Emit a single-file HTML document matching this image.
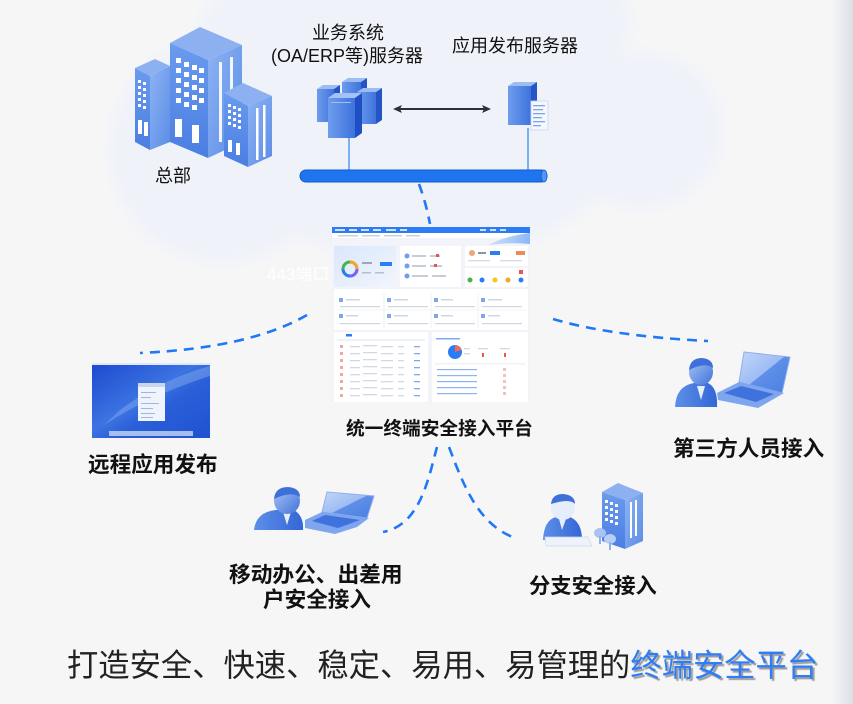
<!DOCTYPE html>
<html><head><meta charset="utf-8">
<style>
html,body{margin:0;padding:0;}
body{width:853px;height:704px;overflow:hidden;background:#f6f6f7;}
svg{display:block;}
text{font-family:"Liberation Sans","Noto Sans CJK SC",sans-serif;}
</style></head>
<body>
<svg width="853" height="704" viewBox="0 0 853 704" xmlns="http://www.w3.org/2000/svg">
<defs>
  <filter id="blur" x="-20%" y="-20%" width="140%" height="140%"><feGaussianBlur stdDeviation="7"/></filter>
  <linearGradient id="edge" x1="0" x2="1" y1="0" y2="0">
    <stop offset="0" stop-color="#f6f6f7"/><stop offset="1" stop-color="#dcdfe6"/>
  </linearGradient>
  <linearGradient id="bfront" x1="0" y1="0" x2="0" y2="1">
    <stop offset="0" stop-color="#6b9bee"/><stop offset="1" stop-color="#4a7ee2"/>
  </linearGradient>
  <linearGradient id="bside" x1="0" y1="0" x2="1" y2="1">
    <stop offset="0" stop-color="#8db3f3"/><stop offset="1" stop-color="#5b8ce6"/>
  </linearGradient>
  <linearGradient id="srv" x1="0" y1="0" x2="1" y2="0">
    <stop offset="0" stop-color="#6e9cee"/><stop offset="1" stop-color="#3f73dc"/>
  </linearGradient>
  <linearGradient id="desk" x1="0" y1="0" x2="1" y2="1">
    <stop offset="0" stop-color="#1d49cf"/><stop offset="0.45" stop-color="#3c74e2"/><stop offset="0.6" stop-color="#2a5fd8"/><stop offset="1" stop-color="#1f52d2"/>
  </linearGradient>
  <linearGradient id="panelblue" x1="0" y1="0" x2="1" y2="1">
    <stop offset="0" stop-color="#dbe7fb"/><stop offset="1" stop-color="#f1f5fd"/>
  </linearGradient>
  <linearGradient id="swoosh" x1="0" y1="0" x2="1" y2="0">
    <stop offset="0" stop-color="#cfe0fb"/><stop offset="1" stop-color="#7fb0f7"/>
  </linearGradient>
  <linearGradient id="head" x1="0" y1="0" x2="1" y2="1">
    <stop offset="0" stop-color="#a9c4f4"/><stop offset="1" stop-color="#3f72da"/>
  </linearGradient>
  <linearGradient id="body" x1="0" y1="0" x2="1" y2="0">
    <stop offset="0" stop-color="#5d8fe8"/><stop offset="1" stop-color="#3466d6"/>
  </linearGradient>
  <linearGradient id="screen" x1="0" y1="0" x2="1" y2="1">
    <stop offset="0" stop-color="#c3d6f8"/><stop offset="0.5" stop-color="#9dbcf3"/><stop offset="0.5" stop-color="#5f8fe8"/><stop offset="1" stop-color="#4a7ee2"/>
  </linearGradient>
</defs>

<rect x="832" y="0" width="21" height="704" fill="url(#edge)"/>

<g fill="#eff2f9" filter="url(#blur)">
  <circle cx="222" cy="150" r="112"/>
  <ellipse cx="420" cy="125" rx="210" ry="135"/>
  <ellipse cx="520" cy="20" rx="110" ry="80"/>
  <ellipse cx="640" cy="130" rx="82" ry="78"/>
  <ellipse cx="300" cy="30" rx="100" ry="60"/>
</g>

<g>
  <polygon points="135,68 155,59 170,66 150,76" fill="#8db0f0"/>
  <polygon points="135,68 150,76 150,150 135,142" fill="url(#bfront)"/>
  <polygon points="150,76 170,66 170,142 150,150" fill="url(#bside)"/>
  <g fill="#fff">
    <rect x="138" y="80" width="3" height="3"/><rect x="143" y="82" width="3" height="3"/>
    <rect x="138" y="86" width="3" height="3"/><rect x="143" y="88" width="3" height="3"/>
    <rect x="138" y="92" width="3" height="3"/><rect x="143" y="94" width="3" height="3"/>
    <rect x="138" y="98" width="3" height="3"/><rect x="143" y="100" width="3" height="3"/>
    <rect x="138" y="104" width="3" height="3"/><rect x="143" y="106" width="3" height="3"/>
    <rect x="138" y="120" width="4" height="14"/><rect x="144" y="122" width="4" height="14"/>
  </g>
  <polygon points="170,43 200,27 242,45 208,60" fill="#8db0f0"/>
  <polygon points="170,43 208,60 208,158 170,142" fill="url(#bfront)"/>
  <polygon points="208,60 242,45 242,142 208,158" fill="url(#bside)"/>
  <g fill="#fff">
    <rect x="176" y="58" width="5" height="5"/><rect x="184" y="62" width="5" height="5"/><rect x="192" y="65" width="5" height="5"/><rect x="199" y="68" width="5" height="5"/>
    <rect x="176" y="68" width="5" height="5"/><rect x="184" y="72" width="5" height="5"/><rect x="192" y="75" width="5" height="5"/><rect x="199" y="78" width="5" height="5"/>
    <rect x="176" y="78" width="5" height="5"/><rect x="184" y="82" width="5" height="5"/><rect x="192" y="85" width="5" height="5"/><rect x="199" y="88" width="5" height="5"/>
    <rect x="176" y="88" width="5" height="5"/><rect x="184" y="92" width="5" height="5"/><rect x="192" y="95" width="5" height="5"/><rect x="199" y="98" width="5" height="5"/>
    <rect x="176" y="98" width="5" height="5"/><rect x="184" y="102" width="5" height="5"/><rect x="192" y="105" width="5" height="5"/>
    <rect x="175" y="119" width="7" height="18"/><rect x="192" y="125" width="7" height="18"/>
    <rect x="219" y="62" width="3" height="80" opacity="0.9"/><rect x="230" y="57" width="3" height="80" opacity="0.9"/>
  </g>
  <polygon points="224,93 243,83 272,96 248,106" fill="#8db0f0"/>
  <polygon points="224,93 248,106 248,167 224,156" fill="url(#bfront)"/>
  <polygon points="248,106 272,96 272,156 248,167" fill="url(#bside)"/>
  <g fill="#fff">
    <rect x="228" y="104" width="3" height="3"/><rect x="233" y="106" width="3" height="3"/><rect x="238" y="108" width="3" height="3"/>
    <rect x="228" y="110" width="3" height="3"/><rect x="233" y="112" width="3" height="3"/><rect x="238" y="114" width="3" height="3"/>
    <rect x="228" y="116" width="3" height="3"/><rect x="233" y="118" width="3" height="3"/><rect x="238" y="120" width="3" height="3"/>
    <rect x="228" y="122" width="3" height="3"/><rect x="233" y="124" width="3" height="3"/><rect x="238" y="126" width="3" height="3"/>
    <rect x="228" y="140" width="4" height="12"/><rect x="236" y="143" width="4" height="12"/>
    <rect x="256" y="108" width="2.5" height="52"/><rect x="263" y="105" width="2.5" height="52"/>
  </g>
</g>

<g>
  <g>
    <polygon points="342,82 348,78 367,78 361,82" fill="#9cbcf4"/>
    <rect x="342" y="82" width="19" height="34" fill="url(#srv)"/>
    <polygon points="361,82 367,78 367,112 361,116" fill="#2454c6"/>
  </g>
  <g>
    <polygon points="317,89 323,85 340,85 334,89" fill="#9cbcf4"/>
    <rect x="317" y="89" width="17" height="33" fill="url(#srv)"/>
    <polygon points="334,89 340,85 340,118 334,122" fill="#2454c6"/>
  </g>
  <g>
    <polygon points="357,92 363,88 382,88 376,92" fill="#9cbcf4"/>
    <rect x="357" y="92" width="19" height="32" fill="url(#srv)"/>
    <polygon points="376,92 382,88 382,120 376,124" fill="#2454c6"/>
  </g>
  <g>
    <polygon points="328,98 335,93 362,93 355,98" fill="#a5c2f5"/>
    <rect x="328" y="98" width="27" height="40" fill="url(#srv)"/>
    <polygon points="355,98 362,93 362,133 355,138" fill="#1f4fc4"/>
    <rect x="331" y="102" width="20" height="1" fill="#9fbff5"/>
  </g>
  <polygon points="508,86 514,82 537,82 531,86" fill="#9cbcf4"/>
  <rect x="508" y="86" width="23" height="39" fill="url(#srv)"/>
  <polygon points="531,86 537,82 537,121 531,125" fill="#2454c6"/>
  <rect x="531" y="101" width="17" height="29" fill="#f4f7fd" stroke="#c9d8f2" stroke-width="0.8"/>
  <g fill="#7fa4e8">
    <rect x="533" y="105" width="12" height="1.3"/><rect x="533" y="109" width="10" height="1.3"/>
    <rect x="533" y="113" width="12" height="1.3"/><rect x="533" y="117" width="9" height="1.3"/>
    <rect x="533" y="121" width="12" height="1.3"/><rect x="533" y="125" width="8" height="1.3"/>
  </g>
  <line x1="400" y1="109" x2="484" y2="109" stroke="#2c303a" stroke-width="2"/>
  <polygon points="393,109 402,105 400,109 402,113" fill="#2c303a"/>
  <polygon points="491,109 482,105 484,109 482,113" fill="#2c303a"/>
  <line x1="349" y1="138" x2="349" y2="171" stroke="#3a8ef2" stroke-width="1.3"/>
  <line x1="528" y1="128" x2="528" y2="171" stroke="#3a8ef2" stroke-width="1.3"/>
  <rect x="300" y="170" width="247" height="12" rx="6" fill="#1f74f0" stroke="#1557c4" stroke-width="1"/>
  <ellipse cx="544" cy="176" rx="3" ry="6" fill="#4f95f5" stroke="#1557c4" stroke-width="0.8"/>
</g>

<g fill="none" stroke="#1f78f5" stroke-width="2.6" stroke-dasharray="10 7">
  <path d="M419,184 Q426,203 430,224"/>
  <path d="M307,315 Q250,348 140,353"/>
  <path d="M553,319 Q610,336 708,341"/>
  <path d="M437,447 C428,480 420,525 383,532"/>
  <path d="M449,447 C465,490 480,525 515,538"/>
</g>

<text x="267" y="280" font-size="17" fill="#ffffff">443端口</text>

<g>
  <rect x="332" y="227" width="198" height="176" fill="#f2f4f9"/>
  <rect x="332" y="227" width="198" height="6" fill="#2b7cf5"/>
  <g fill="#cfe0fd">
    <rect x="335" y="229" width="10" height="2"/><rect x="349" y="229" width="8" height="2"/><rect x="361" y="229" width="8" height="2"/><rect x="373" y="229" width="8" height="2"/><rect x="386" y="229" width="10" height="2"/><rect x="400" y="229" width="7" height="2"/><rect x="480" y="229" width="6" height="2"/><rect x="490" y="229" width="6" height="2"/><rect x="500" y="229" width="6" height="2"/>
  </g>
  <rect x="332" y="233" width="198" height="5" fill="#ffffff"/>
  <g fill="#c9cfdb"><rect x="338" y="235" width="20" height="1.5"/><rect x="362" y="235" width="18" height="1.5"/><rect x="384" y="235" width="18" height="1.5"/><rect x="406" y="235" width="14" height="1.5"/></g>
  <path d="M488,245 Q505,236 530,233 L530,244 Q512,242 488,245 Z" fill="url(#swoosh)" opacity="0.9"/>
  <rect x="334" y="246" width="62" height="41" fill="url(#panelblue)"/>
  <circle cx="350" cy="269" r="7" fill="none" stroke="#4caf50" stroke-width="3"/>
  <path d="M350,262 A7,7 0 0 1 357,269" fill="none" stroke="#f5a623" stroke-width="3"/>
  <path d="M357,269 A7,7 0 0 1 350,276" fill="none" stroke="#7b61ff" stroke-width="3"/>
  <path d="M350,276 A7,7 0 0 1 343,269" fill="none" stroke="#2b7cf5" stroke-width="3"/>
  <rect x="362" y="262" width="10" height="2" fill="#9aa6bb"/><rect x="380" y="262" width="12" height="4" fill="#2b7cf5"/>
  <rect x="362" y="272" width="9" height="1.5" fill="#b5bfcf"/><rect x="375" y="272" width="9" height="1.5" fill="#b5bfcf"/>
  <rect x="400" y="246" width="61" height="41" fill="#ffffff"/>
  <g fill="#6e9ef0"><circle cx="407" cy="256" r="2.5"/><circle cx="407" cy="266" r="2.5"/><circle cx="407" cy="276" r="2.5"/></g>
  <g fill="#c6cdd9"><rect x="412" y="255" width="14" height="2"/><rect x="430" y="255" width="10" height="2"/><rect x="412" y="265" width="14" height="2"/><rect x="430" y="265" width="12" height="2"/><rect x="412" y="275" width="16" height="2"/><rect x="432" y="275" width="14" height="2"/></g>
  <rect x="436" y="254" width="3" height="3" fill="#ef5350"/><rect x="434" y="264" width="3" height="3" fill="#ef5350"/>
  <rect x="465" y="246" width="63" height="20" fill="#ffffff"/>
  <circle cx="472" cy="253" r="3" fill="#e9a77f"/>
  <rect x="478" y="252" width="8" height="2" fill="#8a94a6"/><rect x="490" y="251" width="10" height="4" fill="#2b7cf5"/>
  <rect x="516" y="251" width="9" height="4" fill="#f08a5d"/>
  <g fill="#d5dae3"><rect x="468" y="260" width="22" height="1.3"/><rect x="500" y="260" width="22" height="1.3"/></g>
  <rect x="465" y="268" width="63" height="19" fill="#ffffff"/>
  <circle cx="470" cy="280" r="2.5" fill="#4caf50"/><circle cx="482" cy="280" r="2.5" fill="#2b7cf5"/><circle cx="495" cy="280" r="2.5" fill="#f5c518"/><circle cx="508" cy="280" r="2.5" fill="#f5a623"/><circle cx="521" cy="280" r="2.5" fill="#2b7cf5"/>
  <rect x="519" y="270" width="4" height="4" fill="#ef5350"/>
  <rect x="334" y="289" width="194" height="41" fill="#ffffff"/>
  <g stroke="#e6e9ef" stroke-width="0.6"><line x1="384" y1="293" x2="384" y2="328"/><line x1="431" y1="293" x2="431" y2="328"/><line x1="478" y1="293" x2="478" y2="328"/><line x1="337" y1="310" x2="526" y2="310"/></g>
  <g fill="#7da6ee"><rect x="339" y="298" width="4" height="4"/><rect x="387" y="298" width="4" height="4"/><rect x="434" y="298" width="4" height="4"/><rect x="481" y="298" width="4" height="4"/><rect x="339" y="314" width="4" height="4"/><rect x="387" y="314" width="4" height="4"/><rect x="434" y="314" width="4" height="4"/><rect x="481" y="314" width="4" height="4"/></g>
  <g fill="#d0d6e0"><rect x="346" y="299" width="14" height="1.5"/><rect x="394" y="299" width="14" height="1.5"/><rect x="441" y="299" width="12" height="1.5"/><rect x="488" y="299" width="14" height="1.5"/>
  <rect x="340" y="306" width="40" height="1.2"/><rect x="388" y="306" width="40" height="1.2"/><rect x="435" y="306" width="40" height="1.2"/><rect x="482" y="306" width="40" height="1.2"/>
  <rect x="346" y="315" width="12" height="1.5"/><rect x="394" y="315" width="14" height="1.5"/><rect x="441" y="315" width="12" height="1.5"/><rect x="488" y="315" width="12" height="1.5"/>
  <rect x="340" y="323" width="40" height="1.2"/><rect x="388" y="323" width="40" height="1.2"/><rect x="435" y="323" width="40" height="1.2"/><rect x="482" y="323" width="40" height="1.2"/></g>
  <rect x="334" y="332" width="94" height="70" fill="#ffffff"/>
  <rect x="346" y="334" width="6" height="2.5" fill="#2b7cf5"/>
  <rect x="337" y="339" width="88" height="2" fill="#eef1f6"/>
  <g fill="#f3a5a5"><rect x="340" y="345" width="3" height="3"/><rect x="340" y="352" width="3" height="3"/><rect x="340" y="359" width="3" height="3"/><rect x="340" y="366" width="3" height="3"/><rect x="340" y="373" width="3" height="3"/><rect x="340" y="380" width="3" height="3"/><rect x="340" y="387" width="3" height="3"/><rect x="340" y="394" width="3" height="3"/></g>
  <g fill="#d3d8e1"><rect x="350" y="346" width="10" height="1.3"/><rect x="363" y="345" width="14" height="1.3"/><rect x="381" y="346" width="12" height="1.3"/><rect x="398" y="346" width="6" height="1.3"/>
  <rect x="350" y="353" width="10" height="1.3"/><rect x="363" y="352" width="14" height="1.3"/><rect x="381" y="353" width="12" height="1.3"/><rect x="398" y="353" width="6" height="1.3"/>
  <rect x="350" y="360" width="10" height="1.3"/><rect x="363" y="359" width="14" height="1.3"/><rect x="381" y="360" width="12" height="1.3"/><rect x="398" y="360" width="6" height="1.3"/>
  <rect x="350" y="367" width="10" height="1.3"/><rect x="363" y="366" width="14" height="1.3"/><rect x="381" y="367" width="12" height="1.3"/><rect x="398" y="367" width="6" height="1.3"/>
  <rect x="350" y="374" width="10" height="1.3"/><rect x="363" y="373" width="14" height="1.3"/><rect x="381" y="374" width="12" height="1.3"/><rect x="398" y="374" width="6" height="1.3"/>
  <rect x="350" y="381" width="10" height="1.3"/><rect x="363" y="380" width="14" height="1.3"/><rect x="381" y="381" width="12" height="1.3"/><rect x="398" y="381" width="6" height="1.3"/>
  <rect x="350" y="388" width="10" height="1.3"/><rect x="363" y="387" width="14" height="1.3"/><rect x="381" y="388" width="12" height="1.3"/><rect x="398" y="388" width="6" height="1.3"/>
  <rect x="350" y="395" width="10" height="1.3"/><rect x="363" y="394" width="14" height="1.3"/><rect x="381" y="395" width="12" height="1.3"/><rect x="398" y="395" width="6" height="1.3"/></g>
  <g fill="#7fa8ef"><rect x="414" y="346" width="6" height="1.3"/><rect x="414" y="353" width="6" height="1.3"/><rect x="414" y="360" width="6" height="1.3"/><rect x="414" y="367" width="6" height="1.3"/><rect x="414" y="374" width="6" height="1.3"/><rect x="414" y="381" width="6" height="1.3"/><rect x="414" y="388" width="6" height="1.3"/><rect x="414" y="395" width="6" height="1.3"/></g>
  <rect x="432" y="332" width="96" height="70" fill="#ffffff"/>
  <rect x="436" y="338" width="24" height="1.5" fill="#7fa8ef"/>
  <circle cx="455" cy="352" r="7" fill="#2b7cf5"/>
  <path d="M455,352 L455,345 A7,7 0 0 1 461.5,350 Z" fill="#ef6b5b"/>
  <g fill="#d3d8e1"><rect x="464" y="348" width="6" height="1.3"/><rect x="464" y="353" width="6" height="1.3"/><rect x="478" y="348" width="10" height="1.3"/><rect x="500" y="348" width="10" height="1.3"/></g>
  <rect x="482" y="353" width="2" height="4" fill="#ef5350"/><rect x="504" y="353" width="2" height="4" fill="#ef5350"/>
  <rect x="435" y="363" width="90" height="1.5" fill="#eef1f6"/>
  <g fill="#8fb3f2"><rect x="437" y="369" width="40" height="1.2"/><rect x="437" y="375" width="40" height="1.2"/><rect x="437" y="381" width="40" height="1.2"/><rect x="437" y="387" width="40" height="1.2"/><rect x="437" y="393" width="40" height="1.2"/></g>
  <g fill="#f1c0c0"><rect x="503" y="368" width="3" height="3"/><rect x="503" y="374" width="3" height="3"/><rect x="503" y="380" width="3" height="3"/><rect x="503" y="386" width="3" height="3"/><rect x="503" y="392" width="3" height="3"/></g>
</g>

<g>
  <rect x="92" y="363" width="118" height="75" fill="url(#desk)"/>
  <path d="M210,366 Q160,380 120,410 L104,425 Q150,395 210,376 Z" fill="#7fa5ee" opacity="0.5"/>
  <rect x="92" y="363" width="118" height="2" fill="#dfe8fb"/>
  <rect x="138" y="383" width="27" height="38" fill="#eef3fc"/>
  <rect x="138" y="383" width="27" height="4" fill="#c9d6ee"/>
  <g fill="#9fb6e3"><rect x="141" y="392" width="15" height="1"/><rect x="141" y="397" width="10" height="1"/><rect x="141" y="403" width="18" height="1"/><rect x="141" y="408" width="12" height="1"/><rect x="141" y="413" width="14" height="1"/><rect x="141" y="417" width="12" height="1"/></g>
  <rect x="109" y="431" width="84" height="5" fill="#c8d6f3" opacity="0.8"/>
</g>

<g>
  <path d="M675,407 Q676,386 694,383 L708,383 Q718,388 717,407 Z" fill="url(#body)"/>
  <polygon points="697,386 705,386 701,400" fill="#e7eefc"/>
  <ellipse cx="701" cy="372" rx="12" ry="13" fill="url(#head)"/>
  <path d="M689,370 Q690,358 702,358 Q713,359 713,368 Q705,362 689,370 Z" fill="#3f6fd8"/>
  <polygon points="744,352 790,357 782,393 739,382" fill="url(#screen)" stroke="#8fb0ee" stroke-width="1"/>
  <polygon points="717,393 739,382 784,393 758,408 718,400" fill="#7ea6ee"/>
  <polygon points="724,393 741,386 774,394 756,402" fill="#3f72dc"/>
</g>

<g>
  <path d="M254,530 Q256,512 276,510 L294,510 Q304,516 303,530 Z" fill="url(#body)"/>
  <polygon points="283,512 291,512 287,525" fill="#e7eefc"/>
  <ellipse cx="287" cy="501" rx="13" ry="13" fill="url(#head)"/>
  <path d="M274,499 Q275,487 288,487 Q300,488 300,497 Q291,491 274,499 Z" fill="#3f6fd8"/>
  <polygon points="327,492 374,496 367,518 322,512" fill="url(#screen)" stroke="#8fb0ee" stroke-width="1"/>
  <polygon points="305,520 322,512 369,518 357,527 335,534 305,528" fill="#7ea6ee"/>
  <polygon points="312,521 325,515 360,520 338,528" fill="#3f72dc"/>
</g>

<g>
  <path d="M543,540 Q544,520 556,517 L570,517 Q582,522 582,540 Z" fill="url(#body)"/>
  <polygon points="559,519 566,519 562,530" fill="#e7eefc"/>
  <ellipse cx="563" cy="507" rx="12" ry="13" fill="#e6edfb"/>
  <path d="M551,504 Q552,494 563,494 Q575,495 575,504 Q570,498 551,504 Z" fill="#3f6fd8"/>
  <polygon points="545,537 588,537 592,546 546,546" fill="#eef2fb" stroke="#c9d7f2" stroke-width="0.7"/>
  <polygon points="602,492 618,483 643,493 625,500" fill="#8db0f0"/>
  <polygon points="602,492 625,500 625,549 602,541" fill="url(#bfront)"/>
  <polygon points="625,500 643,493 643,541 625,549" fill="url(#bside)"/>
  <g fill="#fff">
    <rect x="605" y="500" width="3" height="3"/><rect x="610" y="502" width="3" height="3"/><rect x="615" y="504" width="3" height="3"/>
    <rect x="605" y="506" width="3" height="3"/><rect x="610" y="508" width="3" height="3"/><rect x="615" y="510" width="3" height="3"/>
    <rect x="605" y="512" width="3" height="3"/><rect x="610" y="514" width="3" height="3"/><rect x="615" y="516" width="3" height="3"/>
    <rect x="605" y="518" width="3" height="3"/><rect x="610" y="520" width="3" height="3"/><rect x="615" y="522" width="3" height="3"/>
    <rect x="630" y="502" width="2" height="36"/><rect x="635" y="500" width="2" height="36"/>
  </g>
  <ellipse cx="600" cy="533" rx="6" ry="5" fill="#a9c2ef"/>
  <rect x="599" y="536" width="2" height="8" fill="#8fb0ee"/>
  <ellipse cx="610" cy="539" rx="6" ry="5" fill="#b9cef3"/>
  <rect x="609" y="542" width="2" height="8" fill="#8fb0ee"/>
</g>

<g fill="#111" font-size="18">
  <text x="348" y="39" text-anchor="middle">业务系统</text>
  <text x="347" y="62" text-anchor="middle">(OA/ERP等)服务器</text>
  <text x="452" y="52">应用发布服务器</text>
  <text x="155" y="182">总部</text>
</g>
<g fill="#111" font-weight="bold">
  <text x="346" y="435" font-size="18.7">统一终端安全接入平台</text>
  <text x="88" y="472" font-size="21.6">远程应用发布</text>
  <text x="673" y="456" font-size="21.6">第三方人员接入</text>
  <text x="229" y="582" font-size="21.7">移动办公、出差用</text>
  <text x="263" y="607" font-size="21.6">户安全接入</text>
  <text x="529" y="593" font-size="21.3">分支安全接入</text>
</g>
<text x="67" y="676" font-size="31.3" fill="#222">打造安全、快速、稳定、易用、易管理的<tspan fill="#2e7cf6" style="text-shadow:2px 2px 1px #9a9a9a">终端安全平台</tspan></text>
</svg>
</body></html>
